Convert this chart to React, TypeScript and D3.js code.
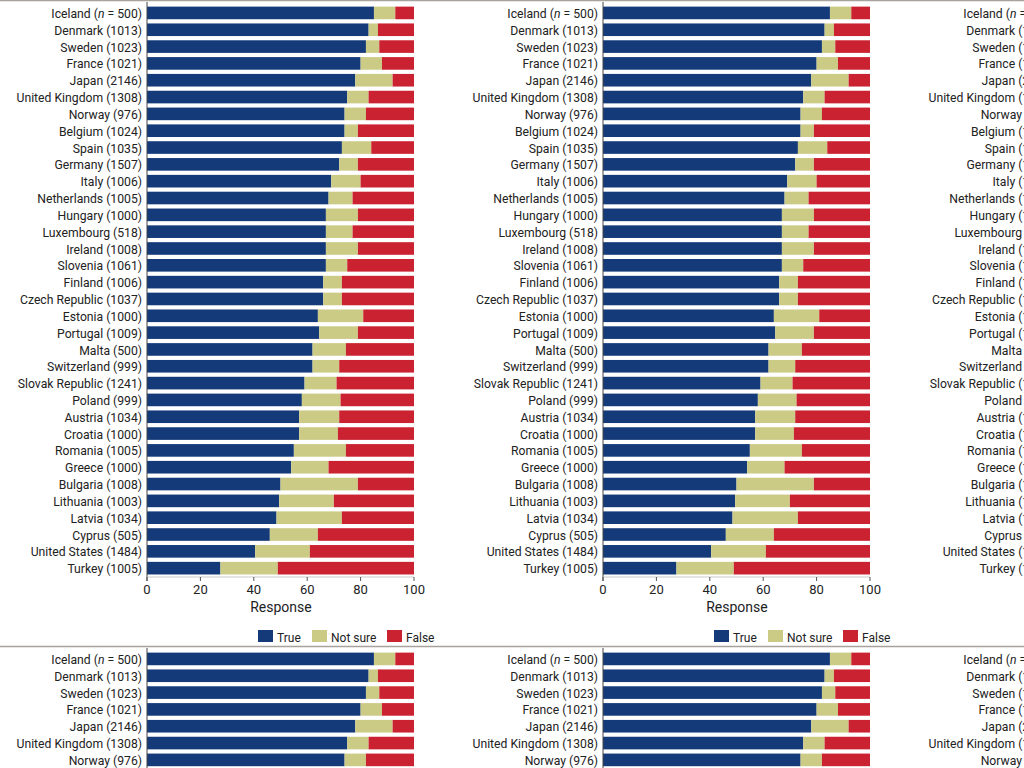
import React from "react";
import * as d3 from "d3";

const countries = [
  "Iceland", "Denmark", "Sweden", "France", "Japan", "United Kingdom", "Norway", "Belgium",
  "Spain", "Germany", "Italy", "Netherlands", "Hungary", "Luxembourg", "Ireland", "Slovenia",
  "Finland", "Czech Republic", "Estonia", "Portugal", "Malta", "Switzerland", "Slovak Republic",
  "Poland", "Austria", "Croatia", "Romania", "Greece", "Bulgaria", "Lithuania", "Latvia",
  "Cyprus", "United States", "Turkey",
];
const sampleSizes = [
  500, 1013, 1023, 1021, 2146, 1308, 976, 1024, 1035, 1507, 1006, 1005, 1000, 518, 1008, 1061,
  1006, 1037, 1000, 1009, 500, 999, 1241, 999, 1034, 1000, 1005, 1000, 1008, 1003, 1034, 505,
  1484, 1005,
];
const trueValues = [
  85, 83, 82, 80, 78, 75, 74, 74, 73, 72, 69, 68, 67, 67, 67, 67, 66, 66, 64, 64.5, 62, 62,
  59, 58, 57, 57, 55, 54, 50, 49.5, 48.5, 46, 40.5, 27.5,
];
const notSureValues = [
  8, 3.5, 5, 8, 14, 8, 8, 5, 11, 7, 11, 9, 12, 10, 12, 8, 7, 7, 17, 14.5, 12.5, 10, 12, 14.5,
  15, 14.5, 19.5, 14, 29, 20.5, 24.5, 18, 20.5, 21.5,
];
const falseValues = trueValues.map((t, i) => 100 - t - notSureValues[i]);
const xTicks = [0, 20, 40, 60, 80, 100];
const seriesNames = ["True", "Not sure", "False"];
const seriesColors = ["#143a7a", "#cccb86", "#cb2231"];

const FONT = "Roboto, 'Open Sans', sans-serif";
const TILE_W = 456;
const TILE_H = 646;

function Tile() {
  const x = d3.scaleLinear().domain([0, 100]).range([147, 414]);
  const y = d3.scaleBand<string>().domain(countries).range([4.6, 576.5]).paddingInner(0.25).paddingOuter(0.12);
  const rows = countries.map((c, i) => {
    const vals = [trueValues[i], notSureValues[i], falseValues[i]];
    let acc = 0;
    const segs = vals.map((v, k) => {
      const s = { x0: acc, x1: acc + v, k };
      acc += v;
      return s;
    });
    return { c, i, segs };
  });
  const legendX = [258, 312, 387];
  return (
    <g>
      <line x1={0} x2={TILE_W} y1={0.5} y2={0.5} stroke="#a8a29c" strokeWidth={1.5} />
      {rows.map((r) => (
        <g key={r.c}>
          {r.segs.map((s) => (
            <rect
              key={s.k}
              x={x(s.x0)}
              width={x(s.x1) - x(s.x0)}
              y={y(r.c)}
              height={y.bandwidth()}
              fill={seriesColors[s.k]}
            />
          ))}
          <text
            x={142}
            y={(y(r.c) as number) + y.bandwidth() / 2 + 0.8}
            dy="0.35em"
            textAnchor="end"
            fontFamily={FONT}
            fontSize={12.2}
            fill="#222"
          >
            {r.i === 0 ? (
              <>
                {r.c} (<tspan fontStyle="italic">n</tspan> = {sampleSizes[r.i]})
              </>
            ) : (
              `${r.c} (${sampleSizes[r.i]})`
            )}
          </text>
        </g>
      ))}
      <line x1={147} x2={147} y1={2} y2={581} stroke="#444" strokeWidth={1} />
      <line x1={147} x2={414} y1={577} y2={577} stroke="#bbb" strokeWidth={0.8} />
      {xTicks.map((t) => (
        <g key={t}>
          <line x1={x(t)} x2={x(t)} y1={577} y2={581} stroke="#555" strokeWidth={1} />
          <text x={x(t)} y={594} textAnchor="middle" fontFamily={FONT} fontSize={13} fill="#222">
            {t}
          </text>
        </g>
      ))}
      <text x={281} y={612} textAnchor="middle" fontFamily={FONT} fontSize={14} fill="#222">
        Response
      </text>
      {seriesNames.map((n, k) => (
        <g key={n}>
          <rect x={legendX[k]} y={630} width={15} height={12} fill={seriesColors[k]} />
          <text x={legendX[k] + 19} y={641.5} fontFamily={FONT} fontSize={12} fill="#222">
            {n}
          </text>
        </g>
      ))}
    </g>
  );
}

export default function App() {
  const offsets: [number, number][] = [];
  for (let r = 0; r < 2; r++) for (let c = 0; c < 3; c++) offsets.push([c * TILE_W, r * TILE_H]);
  return (
    <svg
      width={1024}
      height={768}
      style={{ position: "fixed", top: 0, left: 0, background: "#fff" }}
    >
      <rect width={1024} height={768} fill="#fff" />
      {offsets.map(([ox, oy], i) => (
        <g key={i} transform={`translate(${ox},${oy})`}>
          <Tile />
        </g>
      ))}
    </svg>
  );
}
